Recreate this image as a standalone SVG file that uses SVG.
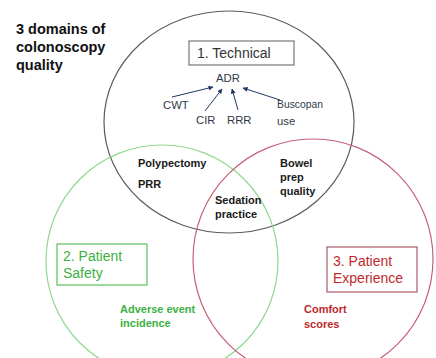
<svg xmlns="http://www.w3.org/2000/svg" width="436" height="358" viewBox="0 0 436 358">
<defs>
<marker id="ah" viewBox="0 0 10 10" refX="9" refY="5" markerWidth="5" markerHeight="5" orient="auto"><path d="M0,0 L10,5 L0,10 z" fill="#1f3864"/></marker>
<style>
text{font-family:"Liberation Sans",Arial,sans-serif}
.title{font-size:14.5px;font-weight:bold;fill:#111}
.dom{font-size:14px}
.lbl{font-size:11.3px;fill:#2f3a4a}
.b{font-size:11px;font-weight:bold;fill:#1a1a1a}
.g{fill:#3cb043}
.r{fill:#c0282d}
.arr{stroke:#1f3864;stroke-width:1;fill:none;marker-end:url(#ah)}
</style>
</defs>
<rect width="436" height="358" fill="#fff"/>
<g id="circles" fill="none" stroke-width="1.2">
<ellipse id="c-tech" cx="229" cy="122" rx="125" ry="111" stroke="#5a5a66"/>
<circle id="c-safety" cx="162" cy="261" r="116" stroke="#8fd88f"/>
<circle id="c-exp" cx="313" cy="259" r="120" stroke="#c8607a"/>
</g>
<g id="title"><text class="title" x="16" y="34">3 domains of</text><text class="title" x="16" y="52">colonoscopy</text><text class="title" x="16" y="70">quality</text></g>
<g id="technical"><rect x="189" y="41" width="105" height="24" fill="#fff" stroke="#777" stroke-width="1.2"/><text class="dom" x="197" y="58" fill="#333">1. Technical</text></g>
<g id="adr"><text class="lbl" x="228" y="82" text-anchor="middle">ADR</text></g>
<g id="cwt"><text class="lbl" x="163" y="109">CWT</text></g>
<g id="cir"><text class="lbl" x="196" y="124">CIR</text></g>
<g id="rrr"><text class="lbl" x="227" y="124">RRR</text></g>
<g id="buscopan"><text class="lbl" x="277" y="108" textLength="46" lengthAdjust="spacingAndGlyphs">Buscopan</text><text class="lbl" x="277" y="125">use</text></g>
<g id="connectors">
<line class="arr" x1="172" y1="97" x2="213" y2="87"/>
<line class="arr" x1="205" y1="111" x2="222" y2="89"/>
<line class="arr" x1="238" y1="110" x2="232" y2="89"/>
<line class="arr" x1="280" y1="100" x2="243" y2="88"/>
</g>
<g id="polypectomy"><text class="b" x="138" y="167">Polypectomy</text><text class="b" x="138" y="188">PRR</text></g>
<g id="bowel"><text class="b" x="280" y="167">Bowel</text><text class="b" x="280" y="181">prep</text><text class="b" x="280" y="195">quality</text></g>
<g id="sedation"><text class="b" x="215" y="204">Sedation</text><text class="b" x="215" y="218">practice</text></g>
<g id="safety"><rect x="57" y="244" width="90" height="41" fill="#fff" stroke="#5cc05c" stroke-width="1.2"/><text class="dom g" x="63" y="261">2. Patient</text><text class="dom g" x="63" y="278">Safety</text></g>
<g id="adverse"><text class="b g" x="120" y="313">Adverse event</text><text class="b g" x="120" y="327">incidence</text></g>
<g id="experience"><rect x="327" y="247" width="90" height="45" fill="#fff" stroke="#a85a66" stroke-width="1.2"/><text class="dom r" x="333" y="266">3. Patient</text><text class="dom r" x="333" y="283">Experience</text></g>
<g id="comfort"><text class="b r" x="304" y="313">Comfort</text><text class="b r" x="304" y="328">scores</text></g>
</svg>
